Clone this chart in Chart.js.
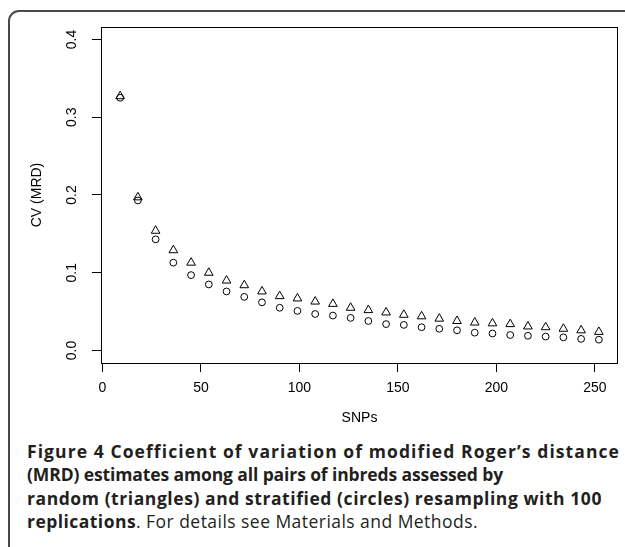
<!DOCTYPE html>
<html>
<head>
<meta charset="utf-8">
<script src="https://cdn.jsdelivr.net/npm/chart.js@4"></script>
<style>
  html, body { margin: 0; padding: 0; background: #fff; overflow: hidden; }
  body { width: 625px; height: 547px; position: relative; }
  .frame { position: absolute; left: 8px; top: 10px; width: 700px; height: 600px;
           border: 2px solid #4a4a4a; border-radius: 11px; box-sizing: border-box; }
  #plot { position: absolute; left: 0; top: 0; }
  .caption { position: absolute; left: 27px; top: 440px; font-family: "Open Sans", sans-serif;
             font-size: 17.5px; line-height: 23.3px; color: #231f20; white-space: nowrap; }
  .caption div { height: 23.3px; }
  .caption b { font-weight: bold; }
</style>
</head>
<body>
<div class="frame"></div>
<canvas id="plot" width="625" height="436"></canvas>
<div class="caption" id="caption">
  <div><span><b>Figure 4 Coefficient of variation of modified Roger’s distance</b></span></div>
  <div><span><b>(MRD) estimates among all pairs of inbreds assessed by</b></span></div>
  <div><span><b>random (triangles) and stratified (circles) resampling with 100</b></span></div>
  <div><span><b>replications</b>. For details see Materials and Methods.</span></div>
</div>
<script>
const snps = [9, 18, 27, 36, 45, 54, 63, 72, 81, 90, 99, 108, 117, 126,
              135, 144, 153, 162, 171, 180, 189, 198, 207, 216, 225, 234, 243, 252];
// random resampling (triangles)
const randomCV = [0.327, 0.197, 0.154, 0.129, 0.113, 0.100, 0.090, 0.084, 0.076, 0.070,
                  0.067, 0.063, 0.060, 0.055, 0.052, 0.049, 0.046, 0.044, 0.041, 0.038,
                  0.036, 0.035, 0.034, 0.031, 0.030, 0.028, 0.026, 0.024];
// stratified resampling (circles)
const stratifiedCV = [0.325, 0.193, 0.143, 0.113, 0.097, 0.085, 0.076, 0.069, 0.062, 0.055,
                      0.051, 0.047, 0.045, 0.042, 0.038, 0.034, 0.033, 0.030, 0.028, 0.026,
                      0.023, 0.022, 0.020, 0.019, 0.018, 0.017, 0.015, 0.014];
const xTicks = [0, 50, 100, 150, 200, 250];
const yTicks = [0.0, 0.1, 0.2, 0.3, 0.4];

const axisFont = { family: '"Liberation Sans", Arial, sans-serif', size: 14 };

// box around the plot region, like R's box()
const boxPlugin = {
    id: 'box',
    afterDraw(chart) {
        const { ctx, chartArea: a } = chart;
        ctx.save();
        ctx.strokeStyle = '#000';
        ctx.lineWidth = 1;
        ctx.strokeRect(Math.round(a.left) + 0.5, Math.round(a.top) + 0.5,
                       Math.round(a.right - a.left) - 1, Math.round(a.bottom - a.top));
        ctx.restore();
    }
};

const toPoints = ys => snps.map((x, i) => ({ x: x, y: ys[i] }));

new Chart(document.getElementById('plot').getContext('2d'), {
    type: 'scatter',
    data: {
        datasets: [{
            label: 'random',
            data: toPoints(randomCV),
            pointStyle: 'triangle',
            pointRadius: 5,
            borderColor: '#000',
            backgroundColor: 'rgba(0,0,0,0)',
            borderWidth: 1
        }, {
            label: 'stratified',
            data: toPoints(stratifiedCV),
            pointStyle: 'circle',
            pointRadius: 3.4,
            borderColor: '#000',
            backgroundColor: 'rgba(0,0,0,0)',
            borderWidth: 1
        }]
    },
    options: {
        responsive: false,
        animation: false,
        devicePixelRatio: 1,
        layout: { padding: { top: 27, right: 7, left: 0, bottom: 0 } },
        plugins: { legend: { display: false }, tooltip: { enabled: false } },
        scales: {
            x: {
                type: 'linear',
                min: -0.72,
                max: 261.72,
                afterBuildTicks: s => { s.ticks = xTicks.map(v => ({ value: v })); },
                afterFit: s => { s.height = 73; },
                ticks: { color: '#000', font: axisFont, padding: 7.6, maxRotation: 0, autoSkip: false },
                grid: { drawOnChartArea: false, drawTicks: true, tickLength: 9, tickColor: '#000' },
                border: { display: false },
                title: { display: true, text: 'SNPs', color: '#000', font: axisFont,
                         padding: { top: 0, bottom: 9.6 } }
            },
            y: {
                type: 'linear',
                min: -0.016,
                max: 0.416,
                afterBuildTicks: s => { s.ticks = yTicks.map(v => ({ value: v })); },
                afterFit: s => { s.width = 101; },
                ticks: { color: '#000', font: axisFont, padding: 10.3, minRotation: 90, maxRotation: 90,
                         crossAlign: 'center', autoSkip: false, callback: v => v.toFixed(1) },
                grid: { drawOnChartArea: false, drawTicks: true, tickLength: 9, tickColor: '#000' },
                border: { display: false },
                title: { display: true, text: 'CV (MRD)', color: '#000', font: axisFont,
                         padding: { top: 28.6, bottom: 0 } }
            }
        }
    },
    plugins: [boxPlugin]
});

// stretch or squeeze each caption line to the width it has in the figure
const captionWidths = [593, 476, 575, 451];
document.querySelectorAll('#caption span').forEach((line, i) => {
    const w = line.getBoundingClientRect().width;
    const n = line.textContent.length;
    line.style.letterSpacing = ((captionWidths[i] - w) / n) + 'px';
});
</script>
</body>
</html>
